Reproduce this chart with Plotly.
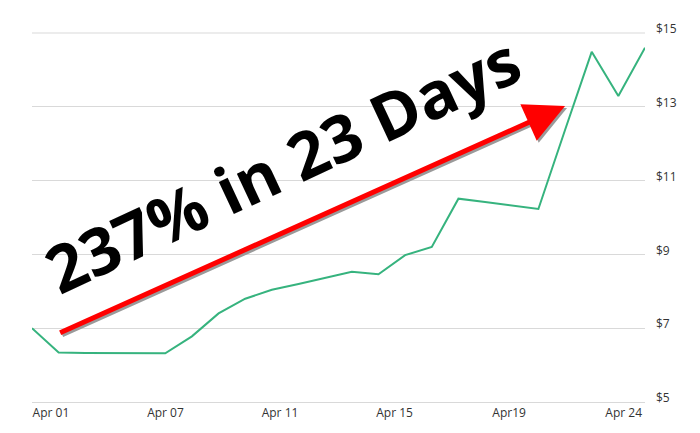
import pandas as pd
import numpy as np
import plotly.graph_objects as go

dates = pd.date_range("2020-04-01", "2020-04-24", freq="D")
prices = [7.00, 6.34, 6.33, 6.33, 6.33, 6.32, 6.78, 7.40, 7.80, 8.04, 8.20,
          8.37, 8.53, 8.46, 8.98, 9.20, 10.51, 10.42, 10.33, 10.23, 12.37,
          14.49, 13.29, 14.60]
tick_labels = ["Apr 01", "Apr 07", "Apr 11", "Apr 15", "Apr19", "Apr 24"]
y_ticks = [5, 7, 9, 11, 13, 15]
headline = "237% in 23 Days"

# evenly spread x tick labels across the axis (as in the original)
offsets = np.linspace(0.71, 22.2, len(tick_labels))
tick_pos = [dates[0] + pd.Timedelta(days=float(o)) for o in offsets]

fig = go.Figure()
fig.add_trace(go.Scatter(x=dates, y=prices, mode="lines",
                         line=dict(color="#36b37e", width=2), hoverinfo="skip"))

grid = "#d9d9d9"
fig.update_layout(
    width=692, height=425,
    margin=dict(l=24, r=55, t=19, b=31),
    paper_bgcolor="white", plot_bgcolor="white",
    showlegend=False,
    font=dict(family="Open Sans", size=12, color="#333333"),
    xaxis=dict(range=[dates[0], dates[-1]], tickvals=tick_pos, ticktext=tick_labels,
               showgrid=False, zeroline=False, showline=True, linecolor=grid,
               linewidth=1, ticks="", tickfont=dict(size=12, color="#333333")),
    yaxis=dict(range=[5, 15], side="right", tickvals=y_ticks,
               ticktext=[f"${v}" for v in y_ticks], showgrid=True,
               gridcolor=grid, gridwidth=1, zeroline=False, ticks="",
               showline=False, ticklabelstandoff=10, ticklabelshift=-4,
               tickfont=dict(size=12, color="#333333")),
)
fig.add_shape(type="line", xref="paper", yref="paper", x0=0, x1=1, y0=1, y1=1,
              line=dict(color=grid, width=1), layer="below")

# arrow shadow + arrow
for color, xs, ys in [("#9a9a9a", 2, -2), ("#ff0000", 0, 0)]:
    fig.add_annotation(x=dates[20], y=13.02, ax=dates[1], ay=6.86,
                       xref="x", yref="y", axref="x", ayref="y",
                       text="", showarrow=True, arrowhead=2, arrowsize=1.6,
                       arrowwidth=5, arrowcolor=color, xshift=xs, yshift=ys)

fig.add_annotation(x=0.408, y=0.646, xref="paper", yref="paper", text=headline,
                   showarrow=False, textangle=-25,
                   font=dict(family="Open Sans", size=65, color="black", weight=700))

fig.write_html("out.html")
